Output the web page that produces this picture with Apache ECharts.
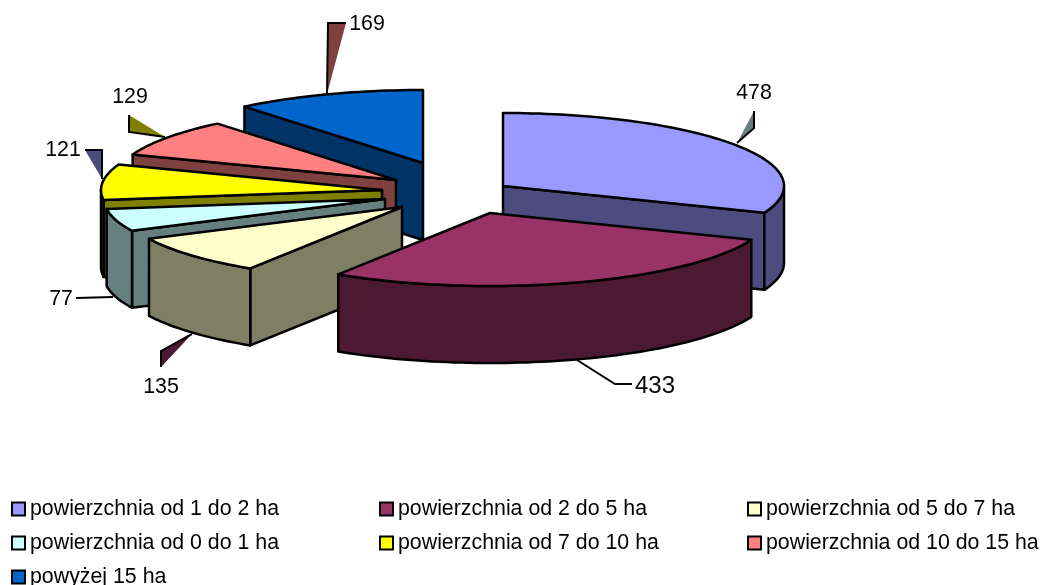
<!DOCTYPE html>
<html>
<head>
<meta charset="utf-8">
<style>html,body{margin:0;padding:0;background:#fff}#c{width:1042px;height:585px}</style>
<script src="https://cdn.jsdelivr.net/npm/echarts@6/dist/echarts.min.js"></script>
</head>
<body>
<div id="c"></div>
<script>
// ---- data ----
var categories = ['powierzchnia od 1 do 2 ha','powierzchnia od 2 do 5 ha','powierzchnia od 5 do 7 ha','powierzchnia od 0 do 1 ha','powierzchnia od 7 do 10 ha','powierzchnia od 10 do 15 ha','powyżej 15 ha'];
var values = [478,433,135,77,121,129,169];
// ---- style / layout ----
var topColors  = ['#9999FF','#993366','#FFFFCC','#CCFFFF','#FFFF00','#FF8080','#0066CC'];
var wallColors = ['#4C4C7F','#4C1933','#7F7F66','#667F7F','#7F7F00','#7F4040','#003366'];
var sliceApexX = [503,490,402,385,382,396,423];
var sliceApexY = [186,213,207,199,190,180,163];
var paintOrder = [6,5,4,3,2,0,1];
var radiusX = 281, radiusY = 73, depth = 77, edge = 2.5;
var labelX = [754,655,161,61,63,130,367];
var labelY = [93,386,387,299,150,97,24];
var labelSize = [21.33,24,21.33,21.33,21.33,21.33,21.33];
var leaderFill = ['#667F7F',null,'#4C1933',null,'#4C4C7F','#7F7F00','#7F4040'];
var leaderPath = [
  [[737,143],[754,128],[754,111]],
  [[577,360],[615,384],[632,384]],
  [[192,334],[161,351],[161,367]],
  [[113,297],[76,298]],
  [[85,150],[102,150],[102,179]],
  [[129,115],[129,132],[165,137]],
  [[346,23],[328,23],[327,94]]
];

var total = values.reduce(function(a,b){return a+b;},0);
var startAngles = [], acc = 0;
values.forEach(function(v){ startAngles.push(acc); acc += v/total*360; });

function rad(d){return d*Math.PI/180;}
function arcPts(i,a0,a1,dz){
  var pts=[], n=Math.max(2,Math.ceil((a1-a0)/1.5));
  for(var k=0;k<=n;k++){
    var t=rad(a0+(a1-a0)*k/n);
    pts.push([sliceApexX[i]+radiusX*Math.sin(t), sliceApexY[i]-radiusY*Math.cos(t)+dz]);
  }
  return pts;
}
function face(points,fill,z2){
  return {type:'polygon',z2:z2,shape:{points:points},style:{fill:fill,stroke:'#000',lineWidth:edge,lineJoin:'round'},silent:true};
}
function radialWall(i,a,z2){
  var e=arcPts(i,a,a,0)[0], ax=sliceApexX[i], ay=sliceApexY[i];
  return face([[ax,ay],e,[e[0],e[1]+depth],[ax,ay+depth]],wallColors[i],z2);
}
function renderSlice(params,api){
  var i=api.value(0), a0=startAngles[i], a1=a0+api.value(1)/total*360, kids=[], z=1;
  var lp=leaderPath[i];
  if(leaderFill[i]) kids.push({type:'polygon',z2:z++,shape:{points:lp},style:{fill:leaderFill[i],stroke:null},silent:true});
  kids.push({type:'polyline',z2:z++,shape:{points:lp},style:{fill:null,stroke:'#000',lineWidth:2},silent:true});
  kids.push({type:'text',z2:z++,x:labelX[i],y:labelY[i],style:{text:String(values[i]),fill:'#000',font:labelSize[i]+'px "Liberation Sans",Arial,sans-serif',textAlign:'center',textVerticalAlign:'middle'},silent:true});
  if(Math.sin(rad(a0))<0) kids.push(radialWall(i,a0,z++));
  if(Math.sin(rad(a1))>0) kids.push(radialWall(i,a1,z++));
  var f0=Math.max(a0,90), f1=Math.min(a1,270);
  if(f1>f0){
    var up=arcPts(i,f0,f1,0), dn=arcPts(i,f0,f1,depth).reverse();
    kids.push(face(up.concat(dn),wallColors[i],z++));
  }
  kids.push(face([[sliceApexX[i],sliceApexY[i]]].concat(arcPts(i,a0,a1,0)),topColors[i],z++));
  return {type:'group',children:kids};
}

var series = paintOrder.map(function(i,n){
  return {
    type:'custom', name:categories[i], coordinateSystem:'none', z:n+2,
    itemStyle:{color:topColors[i]}, renderItem:renderSlice, silent:true,
    encode:{}, data:[[i,values[i]]], animation:false
  };
});
function legendColumn(left,idx){
  return {
    orient:'vertical', left:left, top:496, height:120, width:300, padding:0, itemWidth:13, itemHeight:13, itemGap:8,
    icon:'rect', selectedMode:false, inactiveColor:'#000',
    itemStyle:{borderColor:'#000',borderWidth:2},
    textStyle:{color:'#000',fontSize:21.33,lineHeight:24,fontFamily:'"Liberation Sans",Arial,sans-serif',padding:[2,0,0,0]},
    data:idx.map(function(i){return {name:categories[i],itemStyle:{color:topColors[i]}};})
  };
}
var chart = echarts.init(document.getElementById('c'),null,{renderer:'canvas'});
chart.setOption({
  animation:false, backgroundColor:'#fff', tooltip:{show:false},
  legend:[legendColumn(11,[0,3,6]),legendColumn(379,[1,4]),legendColumn(747,[2,5])],
  series:series
});
</script>
</body>
</html>
